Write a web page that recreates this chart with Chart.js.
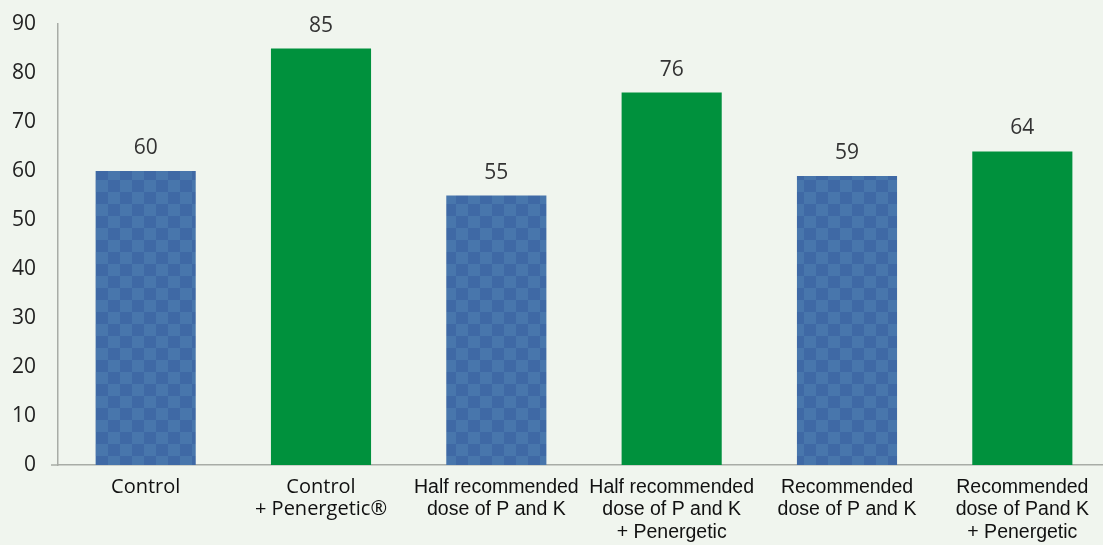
<!DOCTYPE html>
<html>
<head>
<meta charset="utf-8">
<script src="https://cdn.jsdelivr.net/npm/chart.js@4.4.1/dist/chart.umd.min.js"></script>
<style>
  html, body { margin: 0; padding: 0; background: #f0f5ee; overflow: hidden; }
  #wrap { width: 1103px; height: 545px; overflow: hidden; }
  canvas { display: block; }
</style>
</head>
<body>
<div id="wrap"><canvas id="chart" width="1110" height="545"></canvas></div>
<script>
// --- data ---
const categories = [
    ["Control"],
    ["Control", "+ Penergetic\u00AE"],
    ["Half recommended", "dose of P and K"],
    ["Half recommended", "dose of P and K", "+ Penergetic"],
    ["Recommended", "dose of P and K"],
    ["Recommended", "dose of Pand K", "+ Penergetic"]
];
const values = [60, 85, 55, 76, 59, 64];
const withPenergetic = [false, true, false, true, false, true];
const yTicks = [0, 10, 20, 30, 40, 50, 60, 70, 80, 90];

// checkered blue fill for the bars without Penergetic
function makeChecker() {
    const c = document.createElement('canvas');
    c.width = 24; c.height = 24;
    const g = c.getContext('2d');
    g.fillStyle = '#3f69a5';
    g.fillRect(0, 0, 24, 24);
    g.fillStyle = '#4876ac';
    g.fillRect(12, 0, 12, 12);
    g.fillRect(0, 12, 12, 12);
    return document.getElementById('chart').getContext('2d').createPattern(c, 'repeat');
}
const checker = makeChecker();

// value labels above each bar + little stub of the x axis left of the y axis
const valueLabels = {
    id: 'valueLabels',
    afterDatasetsDraw(chart) {
        const ctx = chart.ctx;
        const meta = chart.getDatasetMeta(0);
        const area = chart.chartArea;
        ctx.save();
        ctx.strokeStyle = '#a8aca6';
        ctx.lineWidth = 1.5;
        ctx.beginPath();
        ctx.moveTo(area.left - 7, area.bottom);
        ctx.lineTo(area.left, area.bottom);
        ctx.stroke();

        ctx.font = "21px 'Open Sans', sans-serif";
        ctx.fillStyle = '#333';
        ctx.textAlign = 'center';
        ctx.textBaseline = 'alphabetic';
        meta.data.forEach((bar, i) => {
            ctx.fillText(String(values[i]), bar.x, bar.y - 17);
        });
        ctx.restore();
    }
};

new Chart(document.getElementById('chart').getContext('2d'), {
    type: 'bar',
    data: {
        labels: categories,
        datasets: [{
            data: values,
            backgroundColor: withPenergetic.map(p => p ? '#00913d' : checker),
            borderWidth: 0,
            categoryPercentage: 1,
            barPercentage: 0.571
        }]
    },
    options: {
        responsive: false,
        animation: false,
        layout: { padding: { top: 24, left: 11, right: 0, bottom: 0 } },
        plugins: {
            legend: { display: false },
            tooltip: { enabled: false }
        },
        scales: {
            x: {
                afterFit: axis => { axis.height = 80; },
                grid: { display: false, drawTicks: false },
                border: { display: true, color: '#a8aca6', width: 1.5 },
                ticks: {
                    color: '#111',
                    padding: 11,
                    maxRotation: 0,
                    autoSkip: false,
                    font: ctx => (ctx.index < 2)
                        ? { family: "'Open Sans', sans-serif", size: 20, lineHeight: '22.5px' }
                        : { family: "'Liberation Sans', Arial, sans-serif", size: 19.5, lineHeight: '22.5px' }
                }
            },
            y: {
                min: 0,
                max: 90,
                afterBuildTicks: axis => { axis.ticks = yTicks.map(v => ({ value: v })); },
                afterFit: axis => { axis.width = 47; axis.paddingTop = 0; axis.paddingBottom = 0; },
                grid: { display: false, drawTicks: false },
                border: { display: true, color: '#a8aca6', width: 1.5 },
                ticks: {
                    color: '#222',
                    padding: 22,
                    font: { family: "'Open Sans', sans-serif", size: 21 }
                }
            }
        }
    },
    plugins: [valueLabels]
});
</script>
</body>
</html>
